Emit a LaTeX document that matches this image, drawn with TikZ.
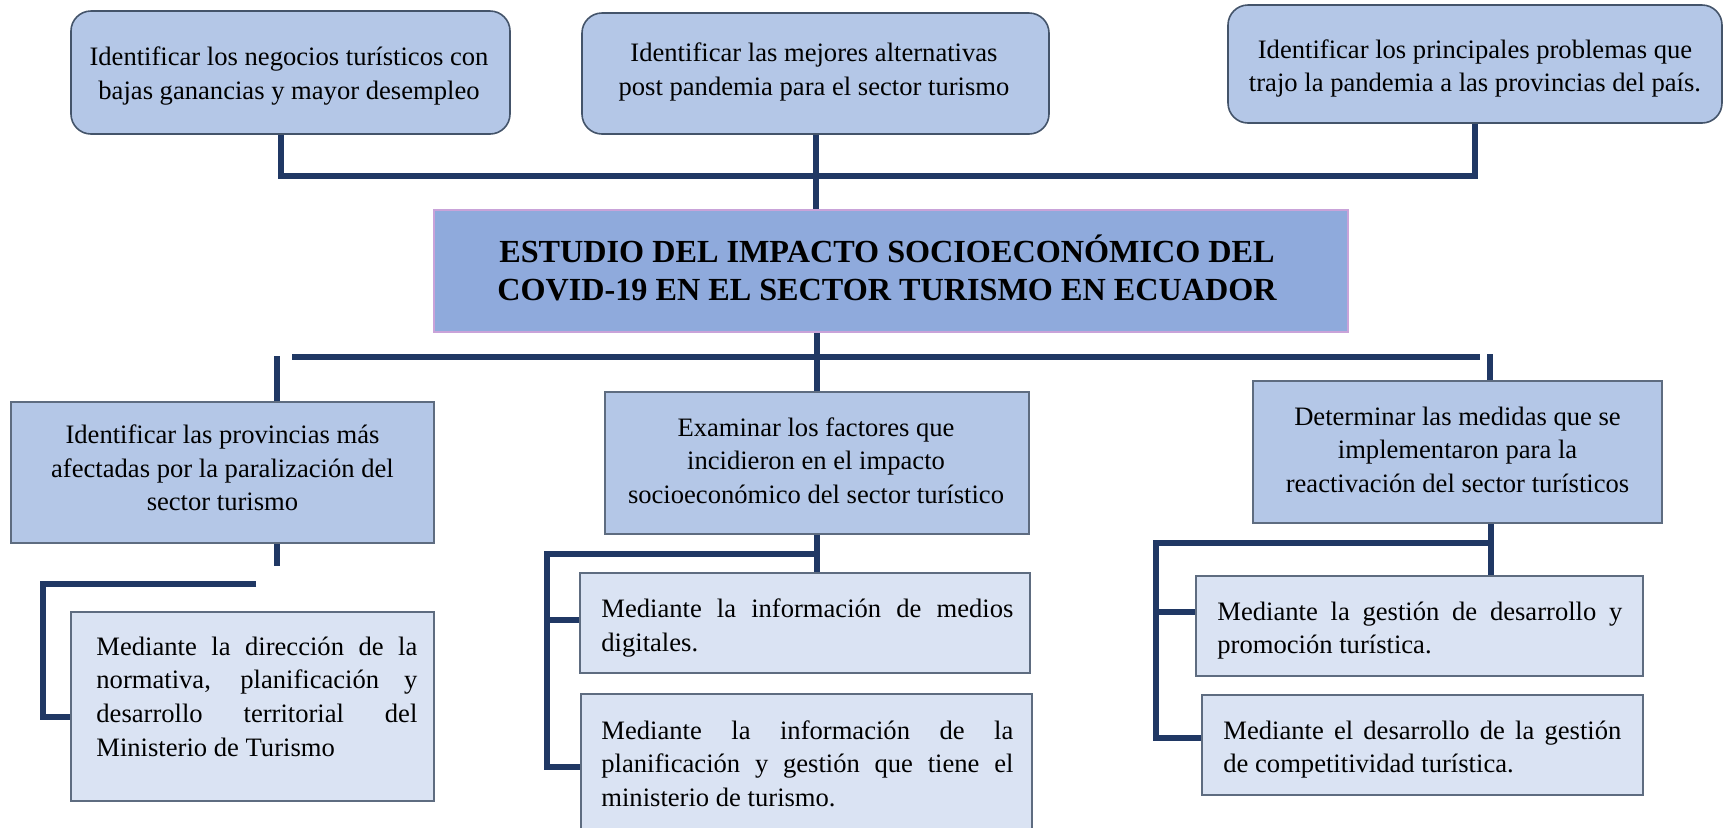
\documentclass[tikz,border=0pt]{standalone}
\usepackage{fontspec}
\setmainfont{Liberation Serif}
\usetikzlibrary{fit,calc}
\definecolor{topfill}{HTML}{B4C7E7}
\definecolor{mainfill}{HTML}{8FAADC}
\definecolor{subfill}{HTML}{DAE3F3}
\definecolor{topedge}{HTML}{44546A}
\definecolor{boxedge}{HTML}{5E6C80}
\definecolor{mainedge}{HTML}{C9A3D9}
\definecolor{navy}{HTML}{203864}
\newcommand{\diagbody}{\fontsize{13.3pt}{16.8pt}\selectfont}
\newcommand{\diagtitle}{\fontsize{16.1pt}{19.3pt}\selectfont\bfseries}
\tikzset{
  topbox/.style={draw=topedge, fill=topfill, line width=0.8pt, rounded corners=10pt, inner sep=0pt},
  mainbox/.style={draw=mainedge, fill=mainfill, line width=0.8pt, inner sep=0pt},
  midbox/.style={draw=boxedge, fill=topfill, line width=0.8pt, inner sep=0pt},
  subbox/.style={draw=boxedge, fill=subfill, line width=0.8pt, inner sep=0pt},
  txt/.style={align=center, inner sep=0pt, font=\diagbody},
  ttl/.style={align=center, inner sep=0pt, font=\diagtitle},
  jtxt/.style={align=justify, inner sep=0pt, anchor=west, font=\diagbody,
    execute at begin node={\tolerance=10000\hyphenpenalty=10000}},
  conn/.style={draw=navy, line width=3pt},
}
\begin{document}
\begin{tikzpicture}[x=0.5pt,y=-0.5pt]
\useasboundingbox[fill=white] (0,0) rectangle (1726,827);

% top row
\node[topbox, fit={(71,11) (510,134)}] (T1) {};
\node[topbox, fit={(582,13) (1049,134)}] (T2) {};
\node[topbox, fit={(1228,5) (1722,123)}] (T3) {};
\node[txt] (T1t) at (289,76) {Identificar los negocios turísticos con\\bajas ganancias y mayor desempleo};
\node[txt] (T2t) at (814,72) {Identificar las mejores alternativas\\post pandemia para el sector turismo};
\node[txt] (T3t) at (1475,68.5) {Identificar los principales problemas que\\trajo la pandemia a las provincias del país.};

% central
\node[mainbox, fit={(434,210) (1348,332)}] (C) {};
\node[ttl] (Ct) at (887,268) {ESTUDIO DEL IMPACTO SOCIOECONÓMICO DEL\\COVID-19 EN EL SECTOR TURISMO EN ECUADOR};

% level 2
\node[midbox, fit={(11,402) (434,543)}] (A) {};
\node[midbox, fit={(605,392) (1029,534)}] (B) {};
\node[midbox, fit={(1253,381) (1662,523)}] (R) {};
\node[txt] (At) at (222.5,468) {Identificar las provincias más\\afectadas por la paralización del\\sector turismo};
\node[txt] (Bt) at (816,460.5) {Examinar los factores que\\incidieron en el impacto\\socioeconómico del sector turístico};
\node[txt] (Rt) at (1457.5,449.5) {Determinar las medidas que se\\implementaron para la\\reactivación del sector turísticos};

% level 3
\node[subbox, fit={(71,612) (434,801)}] (A1) {};
\node[subbox, fit={(580,573) (1030,673)}] (B1) {};
\node[subbox, fit={(581,694) (1032,834)}] (B2) {};
\node[subbox, fit={(1196,576) (1643,676)}] (R1) {};
\node[subbox, fit={(1202,695) (1643,795)}] (R2) {};
\node[jtxt, text width=160.5pt] (A1t) at (96,696.5) {Mediante la dirección de la\linebreak normativa, planificación y\linebreak desarrollo territorial del\linebreak Ministerio de Turismo};
\node[jtxt, text width=206pt] (B1t) at (601,628) {Mediante la información de medios\linebreak digitales.};
\node[jtxt, text width=206pt] (B2t) at (601,763.5) {Mediante la información de la\linebreak planificación y gestión que tiene el\linebreak ministerio de turismo.};
\node[jtxt, text width=202.5pt] (R1t) at (1217,630.5) {Mediante la gestión de desarrollo y\linebreak promoción turística.};
\node[jtxt, text width=199pt] (R2t) at (1223,749.5) {Mediante el desarrollo de la gestión\linebreak de competitividad turística.};

% connectors, top
\draw[conn] ([xshift=-4.75pt]T1.south) -- ++(0,41) -| (T3.south);
\draw[conn] (T2.south) -- (T2.south |- C.north);

% connectors, middle
\coordinate (hl) at (292,357);
\coordinate (hr) at (1480,357);
\draw[conn] (hl) -- (hr);
\draw[conn] (C.south -| B.north) -- (B.north);
\draw[conn] ([xshift=27.25pt]A.north) -- ++(0,-45);
\draw[conn] ([xshift=16.25pt]R.north) -- ++(0,-26);

% left branch
\draw[conn] ([xshift=27.25pt]A.south) -- ++(0,22);
\coordinate (a0) at (256,584);
\draw[conn] (a0) -| ($(A1.west)+(-27,10)$) -- ($(A1.west)+(0,10)$);

% middle branch
\draw[conn] (B.south) -- (B.south |- B1.north);
\draw[conn] ($(B.south)+(0,19)$) -| ($(B2.west)+(-33,3)$) -- ($(B2.west)+(0,3)$);
\draw[conn] ($(B1.west)+(-33,-3)$) -- ($(B1.west)+(0,-3)$);

% right branch
\coordinate (rs) at ($(R.south)+(33.5,0)$);
\draw[conn] (rs) -- (rs |- R1.north);
\draw[conn] ($(rs)+(0,19)$) -| ($(R2.west)+(-45,-7)$) -- ($(R2.west)+(0,-7)$);
\draw[conn] ($(R1.west)+(-39,-14)$) -- ($(R1.west)+(0,-14)$);
\end{tikzpicture}
\end{document}
